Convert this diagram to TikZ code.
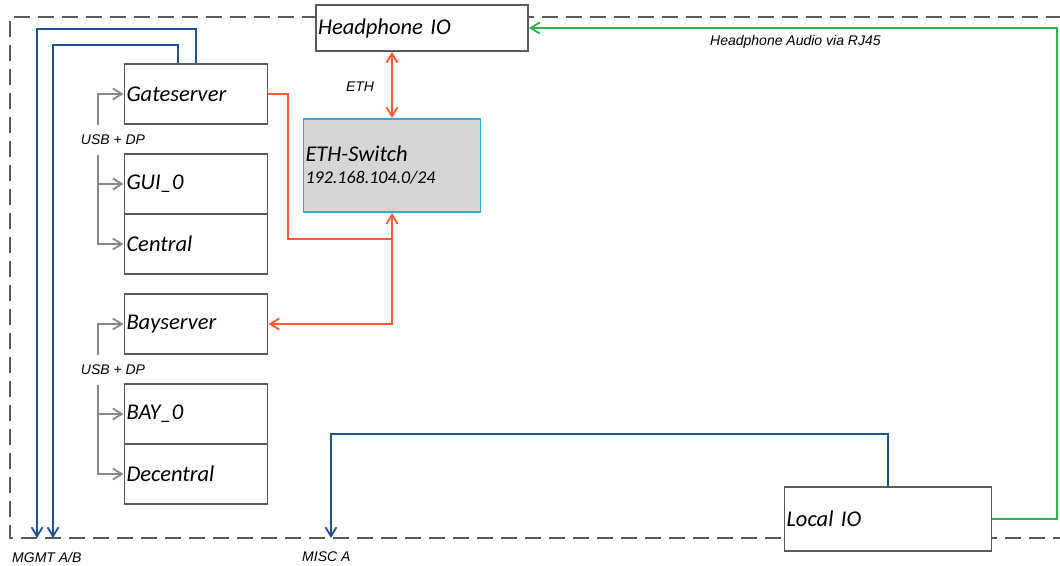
\documentclass[tikz,border=0pt]{standalone}
\usepackage{fontspec}
\setmainfont{Carlito}
\newfontfamily\arialf{Liberation Sans}
\usetikzlibrary{arrows.meta}
\definecolor{boxgray}{HTML}{5A5A5A}
\definecolor{mgmtblue}{HTML}{1F5290}
\definecolor{ethred}{HTML}{FF5A36}
\definecolor{audiogreen}{HTML}{2DB24C}
\definecolor{switchblue}{HTML}{33A8DD}
\definecolor{switchfill}{HTML}{D6D6D6}
\definecolor{usbgray}{HTML}{888888}
\tikzset{
  unitbox/.style={draw=boxgray, line width=1.9pt, fill=white, inner xsep=2pt, inner ysep=0pt,
    align=left, font=\fontsize{22.5}{25}\selectfont\itshape},
  smalllabel/.style={font=\arialf\fontsize{14}{16}\selectfont\itshape, inner sep=0pt},
  barb/.tip={Straight Barb[length=9pt,width=11pt,line width=1.8pt]},
  ethline/.style={draw=ethred, line width=2pt},
  blueline/.style={draw=mgmtblue, line width=2pt},
  greenline/.style={draw=audiogreen, line width=2pt},
  usbline/.style={draw=usbgray, line width=1.8pt},
  frameline/.style={draw=boxgray, line width=1.8pt, dash pattern=on 16pt off 8pt}
}
\begin{document}
\begin{tikzpicture}[x=1pt,y=-1pt]
\useasboundingbox (0,0) rectangle (1060,565);
% dashed frame
\draw[frameline] (1062,17) -- (10,17) -- (10,538) -- (1062,538);

% nodes
\node[unitbox, text width=208pt, minimum height=46pt] (hp) at (422,28) {Headphone IO};
\node[unitbox, text width=139pt, minimum height=60pt] (gate) at (196,94) {Gateserver};
\node[unitbox, text width=139pt, minimum height=60pt] (gui) at (196,184) {GUI\_0};
\node[unitbox, text width=139pt, minimum height=60pt] (central) at (196,244) {Central};
\node[unitbox, text width=139pt, minimum height=60pt] (bay) at (196,324) {Bayserver};
\node[unitbox, text width=139pt, minimum height=60pt] (bay0) at (196,414) {BAY\_0};
\node[unitbox, text width=139pt, minimum height=60pt] (decentral) at (196,474) {Decentral};
\node[unitbox, draw=switchblue, fill=switchfill, text width=173pt, minimum height=93pt] (eth) at (392,165.5)
  {\fontsize{22.5}{25}\selectfont ETH-Switch\\[-3pt]\fontsize{18}{20}\selectfont 192.168.104.0/24};
\node[unitbox, text width=203pt, minimum height=64pt] (local) at (888,519) {Local IO};

% labels
\node[smalllabel] (ethlbl) at (360,87) {ETH};
\node[smalllabel, anchor=west] (audiolbl) at (710,42) {Headphone Audio via RJ45};
\node[smalllabel] (usb1) at (113,140) {USB + DP};
\node[smalllabel] (usb2) at (113,370) {USB + DP};
\node[smalllabel, anchor=west] (mgmtlbl) at (12,557) {MGMT A/B};
\node[smalllabel, anchor=west] (misclbl) at (302,557) {MISC A};

% coordinates
\coordinate (j) at (392,239);
\coordinate (u1) at (98,125);
\coordinate (u2) at (98,155);
\coordinate (u3) at (98,355);
\coordinate (u4) at (98,385);
\coordinate (mgA) at (37,538);
\coordinate (mgB) at (53,538);
\coordinate (misc) at (331,538);

% ethernet
\draw[ethline, barb-barb] (eth.north) -- (eth.north |- hp.south);
\draw[ethline] (gate.east) -- ++(20,0) |- (j);
\draw[ethline, -barb] (j) -- (eth.south);
\draw[ethline, -barb] (j) |- (bay.east);

% usb + dp
\draw[usbline, -barb] (u1) |- (gate.west);
\draw[usbline, -barb] (u2) |- (gui.west);
\draw[usbline, -barb] (u2) |- (central.west);
\draw[usbline, -barb] (u3) |- (bay.west);
\draw[usbline, -barb] (u4) |- (bay0.west);
\draw[usbline, -barb] (u4) |- (decentral.west);

% management
\draw[blueline, -barb] (gate.north) -- ++(0,-34) -| (mgA);
\draw[blueline, -barb] ([xshift=-18pt]gate.north) -- ++(0,-18) -| (mgB);
\draw[blueline, -barb] (local.north) -- ++(0,-52) -| (misc);

% audio
\draw[greenline, -barb] (local.east) -- ++(65,0) |- (hp.east);
\end{tikzpicture}
\end{document}
